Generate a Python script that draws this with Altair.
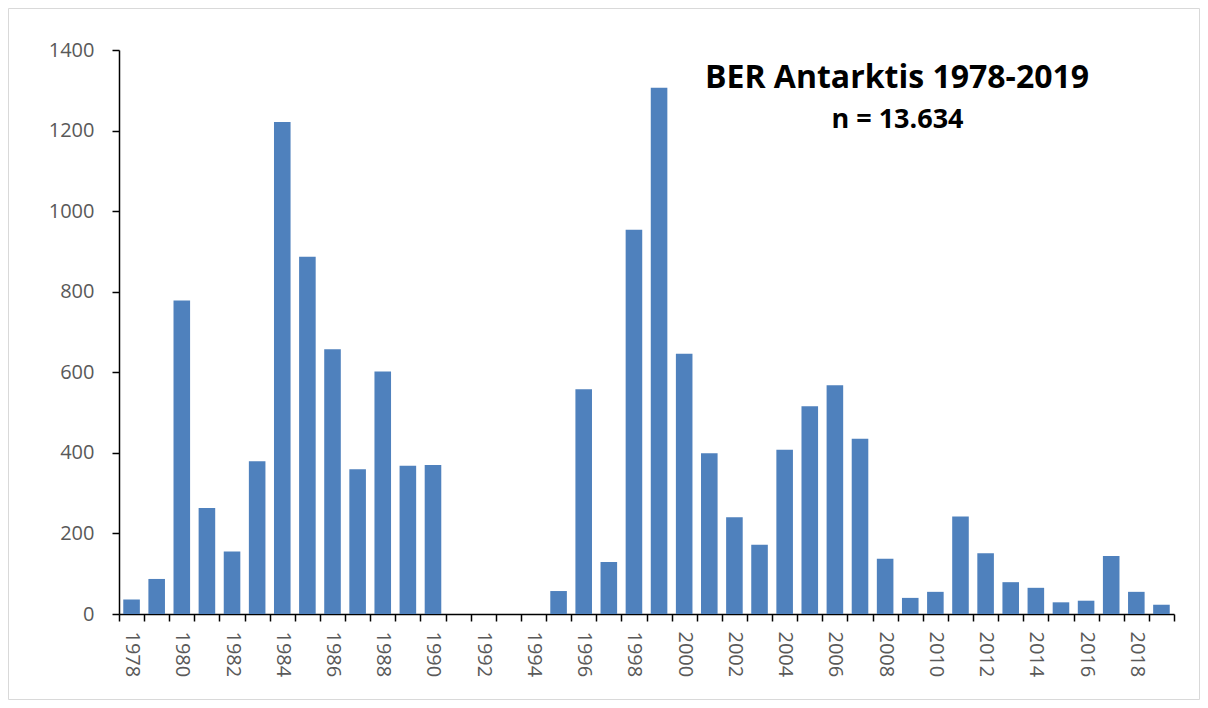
import altair as alt
import pandas as pd

years = list(range(1978, 2020))
counts = [36, 87, 778, 263, 155, 379, 1221, 887, 657, 359, 602, 368, 370,
          0, 0, 0, 0, 57, 558, 129, 954, 1306, 646, 399, 240, 172, 408, 516,
          568, 435, 137, 40, 55, 242, 151, 79, 65, 29, 33, 144, 55, 23]
y_ticks = [0, 200, 400, 600, 800, 1000, 1200, 1400]
title_text = "BER Antarktis 1978-2019"
subtitle_text = "n = 13.634"

df = pd.DataFrame({"year": years, "count": counts})

W, H = 1055, 564

border = alt.Chart(pd.DataFrame({"a": [0]})).mark_rect(
    fillOpacity=0, stroke="#d9d9d9", strokeWidth=1
).encode(
    x=alt.value(-110.5), x2=alt.value(1080.5),
    y=alt.value(-41.5), y2=alt.value(649.5)
)

bars = alt.Chart(df).mark_bar(
    color="#4F81BD", width=alt.RelativeBandSize(0.66)
).encode(
    x=alt.X("year:O", title=None,
            scale=alt.Scale(paddingInner=0, paddingOuter=0),
            axis=alt.Axis(tickBand="extent", labelAngle=90, labelAlign="left",
                          labelBaseline="middle", labelPadding=10, tickSize=7,
                          labelExpr="datum.value % 2 == 0 ? datum.label : ''")),
    y=alt.Y("count:Q", title=None,
            scale=alt.Scale(domain=[0, 1400], nice=False),
            axis=alt.Axis(values=y_ticks, format="d", tickSize=7, labelPadding=18))
)

title = alt.Chart(pd.DataFrame({"t": [title_text]})).mark_text(
    font="Open Sans", fontWeight="bold", fontSize=32, color="black",
    align="center", baseline="alphabetic"
).encode(text="t:N", x=alt.value(778), y=alt.value(38.3))

subtitle = alt.Chart(pd.DataFrame({"t": [subtitle_text]})).mark_text(
    font="Open Sans", fontWeight="bold", fontSize=27, color="black",
    align="center", baseline="alphabetic"
).encode(text="t:N", x=alt.value(778.5), y=alt.value(77.7))

chart = alt.layer(border, bars, title, subtitle).properties(
    width=W, height=H,
    autosize=alt.AutoSizeParams(type="none"),
    padding={"left": 111, "top": 42, "right": 26, "bottom": 86},
    background="white"
).configure_view(stroke="transparent").configure_axis(
    domainColor="black", domainWidth=1.5, tickColor="black", tickWidth=1.5,
    labelColor="#595959", labelFont="Open Sans", labelFontSize=20, grid=False
)

chart.save("out.html", embed_options={"renderer": "svg", "actions": False})
